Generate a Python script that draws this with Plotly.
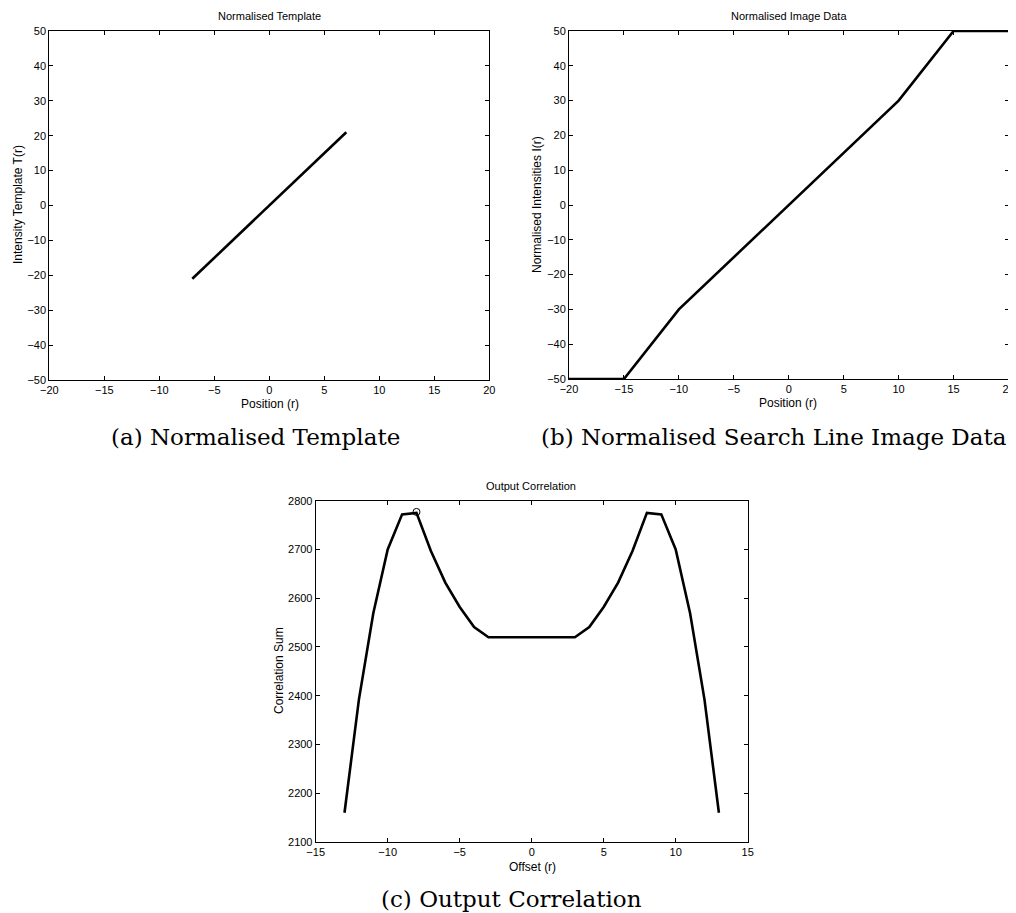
import plotly.graph_objects as go

# Panel (a): normalised template
tmpl_x = [-7, 7]
tmpl_y = [-21, 21]

# Panel (b): normalised search line image data
img_x = [-20, -15, -10, 10, 15, 20]
img_y = [-50, -50, -30, 30, 50, 50]

# Panel (c): output correlation
corr_x = list(range(-13, 14))
corr_y = [2160, 2392, 2569, 2700, 2772, 2775, 2697, 2632, 2582, 2541, 2520,
          2520, 2520, 2520, 2520, 2520, 2520, 2541, 2582, 2632, 2697, 2775,
          2772, 2700, 2569, 2392, 2160]
peak_x = [-8]
peak_y = [2777]

OFF = 8  # page body margin
W, H = 1016 - OFF, 913 - OFF
def px(x):
    return (x - OFF) / W
def py(y):
    return 1 - (y - OFF) / H

SANS = "Liberation Sans, Arial, sans-serif"
SERIF = "DejaVu Serif, serif"
axis_font = dict(family=SANS, size=11, color="black")

fig = go.Figure()
line = dict(color="black", width=2.6)
fig.add_trace(go.Scatter(x=tmpl_x, y=tmpl_y, mode="lines", line=line, xaxis="x", yaxis="y"))
fig.add_trace(go.Scatter(x=img_x, y=img_y, mode="lines", line=line, xaxis="x2", yaxis="y2"))
fig.add_trace(go.Scatter(x=corr_x, y=corr_y, mode="lines", line=line, xaxis="x3", yaxis="y3"))
fig.add_trace(go.Scatter(x=peak_x, y=peak_y, mode="markers",
                         marker=dict(symbol="circle-open", size=7, color="black", line=dict(width=1)),
                         xaxis="x3", yaxis="y3"))

def ax(domain, rng, dtick, anchor):
    return dict(domain=domain, range=rng, dtick=dtick, tick0=rng[0], ticks="inside", ticklen=4,
                tickcolor="black", showline=True, linecolor="black", linewidth=1, mirror="ticks",
                showgrid=False, zeroline=False, tickfont=axis_font, anchor=anchor,
                automargin=False, ticklabeloverflow="allow")

fig.update_layout(
    template="none",
    width=W, height=H, margin=dict(l=0, r=0, t=0, b=0),
    paper_bgcolor="white", plot_bgcolor="white", showlegend=False,
    xaxis=ax([px(49.3), px(489.3)], [-20, 20], 5, "y"),
    yaxis=ax([py(380), py(31)], [-50, 50], 10, "x"),
    xaxis2=ax([px(569), px(1008.5)], [-20, 20], 5, "y2"),
    yaxis2=ax([py(379), py(31)], [-50, 50], 10, "x2"),
    xaxis3=ax([px(315.7), px(747.7)], [-15, 15], 5, "y3"),
    yaxis3=ax([py(842), py(500.7)], [2100, 2800], 100, "x3"),
)

# (text, x, y, family, size, angle)
annots = [
    ("Normalised Template", 269, 16, SANS, 11, 0),
    ("Normalised Image Data", 789, 16, SANS, 11, 0),
    ("Output Correlation", 531, 486, SANS, 11, 0),
    ("Position (r)", 270, 404, SANS, 12, 0),
    ("Position (r)", 788, 403, SANS, 12, 0),
    ("Offset (r)", 532, 867, SANS, 12, 0),
    ("Intensity Template T(r)", 18, 205, SANS, 12, -90),
    ("Normalised Intensities I(r)", 537, 205, SANS, 12, -90),
    ("Correlation Sum", 279, 671, SANS, 12, -90),
    ("(a) Normalised Template", 255, 437, SERIF, 23, 0),
    ("(b) Normalised Search Line Image Data", 774, 437, SERIF, 23, 0),
    ("(c) Output Correlation", 511, 899, SERIF, 23, 0),
]
for text, x, y, fam, s, ang in annots:
    fig.add_annotation(text=text, x=px(x), y=py(y), xref="paper", yref="paper",
                       showarrow=False, xanchor="center", yanchor="middle", textangle=ang,
                       font=dict(family=fam, size=s, color="black"))

fig.write_html("out.html")
